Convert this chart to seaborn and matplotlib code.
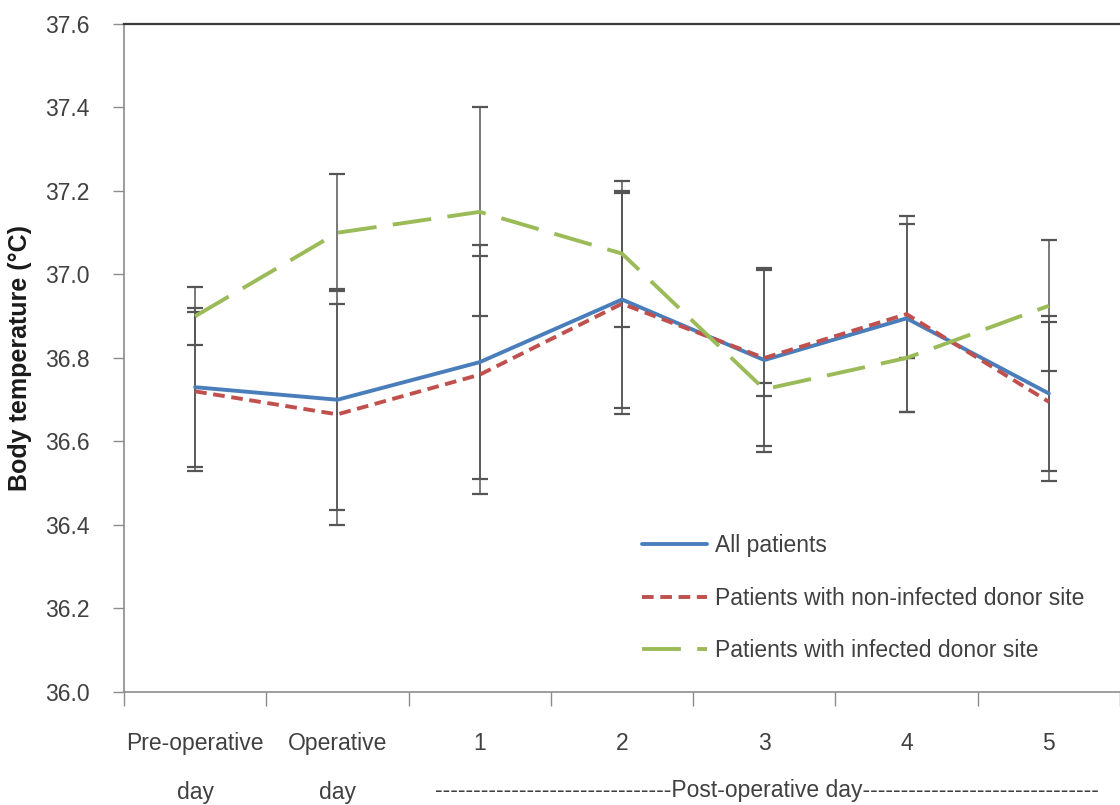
import matplotlib
matplotlib.use("Agg")
import matplotlib.pyplot as plt
import matplotlib.transforms as mtransforms
import numpy as np
import pandas as pd
import seaborn as sns

# Perioperative body temperature (mean ± SD) per day
days = ["Pre-operative\nday", "Operative\nday", "1", "2", "3", "4", "5"]
groups = ["All patients",
          "Patients with non-infected donor site",
          "Patients with infected donor site"]

all_mean = [36.73, 36.70, 36.79, 36.94, 36.795, 36.895, 36.715]
all_sd = [0.19, 0.265, 0.28, 0.26, 0.22, 0.225, 0.185]

noninf_mean = [36.72, 36.665, 36.76, 36.93, 36.80, 36.905, 36.695]
noninf_sd = [0.19, 0.265, 0.285, 0.265, 0.21, 0.235, 0.19]

inf_mean = [36.90, 37.10, 37.15, 37.05, 36.725, 36.80, 36.925]
inf_sd = [0.07, 0.14, 0.25, 0.175, 0.015, 0.0, 0.157]

colors = {groups[0]: "#4a7ebb", groups[1]: "#c0504d", groups[2]: "#9bbb59"}
dash_styles = {groups[0]: "", groups[1]: (3.0, 1.7), groups[2]: (10.0, 4.2)}

x = np.arange(len(days))
df = pd.DataFrame({
    "day": np.tile(x, 3),
    "temp": all_mean + noninf_mean + inf_mean,
    "sd": all_sd + noninf_sd + inf_sd,
    "group": np.repeat(groups, len(days)),
})

sns.set_style("white")
plt.rcParams["font.family"] = ["Liberation Sans", "DejaVu Sans"]
text_color = "#404040"
fs = 16.5

fig = plt.figure(figsize=(11.2, 8.05), dpi=100)
ax = fig.add_axes([0.1107, 0.1404, 0.8893, 0.8298])

# Error bars behind the lines
for g in groups:
    sub = df[df["group"] == g]
    ax.errorbar(sub["day"], sub["temp"], yerr=sub["sd"], fmt="none",
                ecolor="#555555", elinewidth=1.1, capsize=5.5, capthick=1.6,
                zorder=1)

sns.lineplot(data=df, x="day", y="temp", hue="group", style="group",
             hue_order=groups, style_order=groups, palette=colors,
             dashes=dash_styles, linewidth=2.8, ax=ax, zorder=3)

ax.set_xlim(-0.5, len(days) - 0.5)
ax.set_ylim(36.0, 37.6)
ax.set_yticks(np.arange(36.0, 37.61, 0.2))
ax.set_yticklabels([f"{v:.1f}" for v in np.arange(36.0, 37.61, 0.2)])
ax.set_xticks(x)
ax.set_xticklabels(days, linespacing=2.45)
ax.set_xticks(np.arange(-0.5, len(days) - 0.4, 1.0), minor=True)

ax.tick_params(axis="x", which="major", length=0, pad=29,
               labelsize=fs, labelcolor=text_color)
ax.tick_params(axis="x", which="minor", length=10, width=1,
               color="#8c8c8c", bottom=True)
ax.tick_params(axis="y", length=8, width=1, color="#8c8c8c", left=True,
               pad=17, labelsize=fs, labelcolor=text_color)

for side in ["left", "bottom"]:
    ax.spines[side].set_color("#8c8c8c")
    ax.spines[side].set_linewidth(1.2)
ax.spines["top"].set_color("#3a3a3a")
ax.spines["top"].set_linewidth(1.6)
ax.spines["right"].set_visible(False)

ax.set_xlabel("")
ax.set_ylabel("Body temperature (°C)", fontsize=18, fontweight="bold",
              color="#1a1a1a", labelpad=9)

handles, labels = ax.get_legend_handles_labels()
for h in handles:
    h.set_linewidth(2.8)
ax.legend(handles, labels, loc="upper left", bbox_to_anchor=(0.52, 0.236),
          frameon=False, fontsize=fs, handlelength=2.85, handletextpad=0.35,
          labelspacing=1.28, borderpad=0, borderaxespad=0,
          labelcolor=text_color)

# Span label under the post-operative days
trans = mtransforms.blended_transform_factory(ax.transData, fig.transFigure)
ax.text(4.02, 0.0186, "-" * 31 + "Post-operative day" + "-" * 31,
        transform=trans, ha="center", va="center", fontsize=fs,
        color=text_color)

fig.savefig("out.png", dpi=100)
